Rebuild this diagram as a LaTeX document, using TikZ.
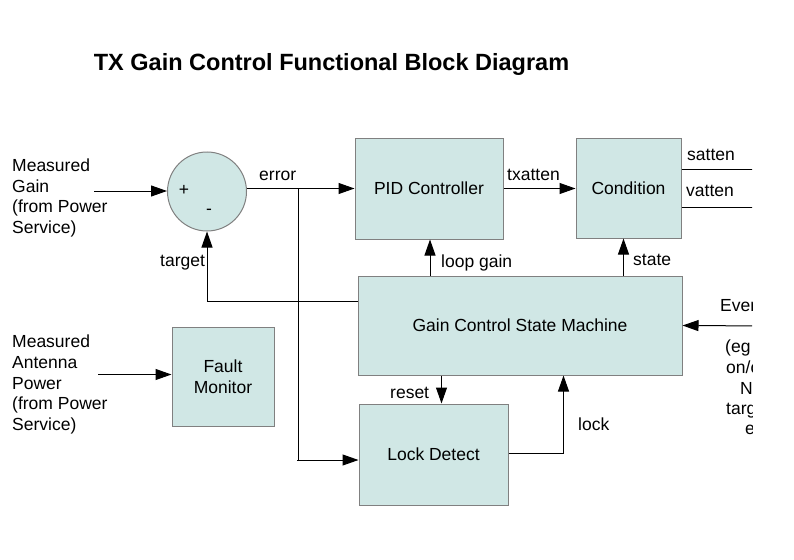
\documentclass[tikz,border=0pt]{standalone}
\usepackage{fontspec}
\setmainfont{Liberation Sans}
\usetikzlibrary{arrows.meta}
\definecolor{boxfill}{RGB}{208,231,229}
\definecolor{boxline}{RGB}{128,128,128}
\newcommand\dfont{\fontsize{17.5}{20.8}\selectfont}
\begin{document}
\begin{tikzpicture}[x=1pt,y=-1pt,
  box/.style={draw=boxline, fill=boxfill, line width=1pt, inner sep=0pt, font=\dfont, align=center},
  arr/.style={-{Triangle[length=16pt,width=11pt]}, line width=1pt},
  ln/.style={line width=1pt},
  lbl/.style={inner sep=0pt, anchor=base west, font=\dfont},
  sym/.style={inner sep=0pt, font=\dfont}]
\useasboundingbox (0,0) rectangle (794,559);
\begin{scope}
\clip (0,0) rectangle (752,559);
% title
\node[inner sep=0pt, anchor=base, font=\bfseries\fontsize{23.5}{28}\selectfont] (title) at (331.5,70.5) {TX Gain Control Functional Block Diagram};
% blocks
\node[box, circle, minimum size=79pt] (sum) at (207,191.5) {};
\node[sym] (plus) at (184,190.7) {+};
\node[sym] (minus) at (209,212) {-};
\node[box, minimum width=148pt, minimum height=101pt] (pid) at (429,188.5) {PID Controller};
\node[box, minimum width=105pt, minimum height=100pt] (cond) at (628.5,188) {Condition};
\node[box, minimum width=324pt, minimum height=99pt] (sm) at (520,325.5) {Gain Control State Machine};
\node[box, minimum width=149pt, minimum height=101pt] (ld) at (433.5,454.5) {Lock Detect};
\node[box, minimum width=102pt, minimum height=99pt] (fm) at (223,376.5) {Fault\\Monitor};
% left input texts
\node[lbl] (mg1) at (12,171.5) {Measured};
\node[lbl] (mg2) at (12,192) {Gain};
\node[lbl] (mg3) at (12,212.5) {(from Power};
\node[lbl] (mg4) at (12,233) {Service)};
\node[lbl] (ma1) at (12,347) {Measured};
\node[lbl] (ma2) at (12,368) {Antenna};
\node[lbl] (ma3) at (12,389) {Power};
\node[lbl] (ma4) at (12,409.5) {(from Power};
\node[lbl] (ma5) at (12,430.5) {Service)};
% events text (clipped at the right edge)
\node[lbl] (ev1) at (720,311.5) {Events};
\node[lbl] (ev2) at (725,352.5) {(eg PA};
\node[lbl] (ev3) at (726,373.5) {on/off,};
\node[lbl] (ev4) at (740,394) {New};
\node[lbl] (ev5) at (726,414) {target,};
\node[lbl] (ev6) at (745,434.5) {etc)};
% connector labels
\node[lbl] (lerr) at (259,180.5) {error};
\node[lbl] (ltgt) at (160,266.5) {target};
\node[lbl] (ltx) at (507,180) {txatten};
\node[lbl] (lloop) at (441,267) {loop gain};
\node[lbl] (lstate) at (633,265) {state};
\node[lbl] (lsat) at (687,160.5) {satten};
\node[lbl] (lvat) at (686,196.5) {vatten};
\node[lbl] (lreset) at (390,398.5) {reset};
\node[lbl] (llock) at (578,430) {lock};
% coordinates for free ends
\coordinate (mgin) at (94,191);
\coordinate (aain) at (98,374.5);
\coordinate (br) at (298.5,188.5);
\coordinate (evin) at (770,326);
\coordinate (sat) at (770,169.5);
\coordinate (vat) at (770,207.5);
% connectors
\draw[arr] (mgin) -- (sum.west |- mgin);
\draw[arr] (sum.east |- pid.west) -- (pid.west);
\draw[arr] (br) |- ([yshift=-5.5pt]ld.west);
\draw[ln] (br |- ld.west) ++(0,5.5) -- ++(-2,0);
\draw[arr] ([yshift=24pt]sm.west) -| (sum.south);
\draw[arr] (pid.east) -- (cond.west |- pid.east);
\draw[arr] ([xshift=1pt]pid.south |- sm.north) -- ([xshift=1pt]pid.south);
\draw[arr] ([xshift=-5pt]cond.south |- sm.north) -- ([xshift=-5pt]cond.south);
\draw[arr] ([xshift=8pt]ld.north |- sm.south) -- ([xshift=8pt]ld.north);
\draw[arr] ([yshift=1.5pt]ld.east) -| ([xshift=43.5pt]sm.south);
\draw[arr] (evin) -- (sm.east);
\draw[ln] (cond.east |- sat) -- (sat);
\draw[ln] (cond.east |- vat) -- (vat);
\draw[arr] (aain) -- (fm.west |- aain);
\end{scope}
\end{tikzpicture}
\end{document}
